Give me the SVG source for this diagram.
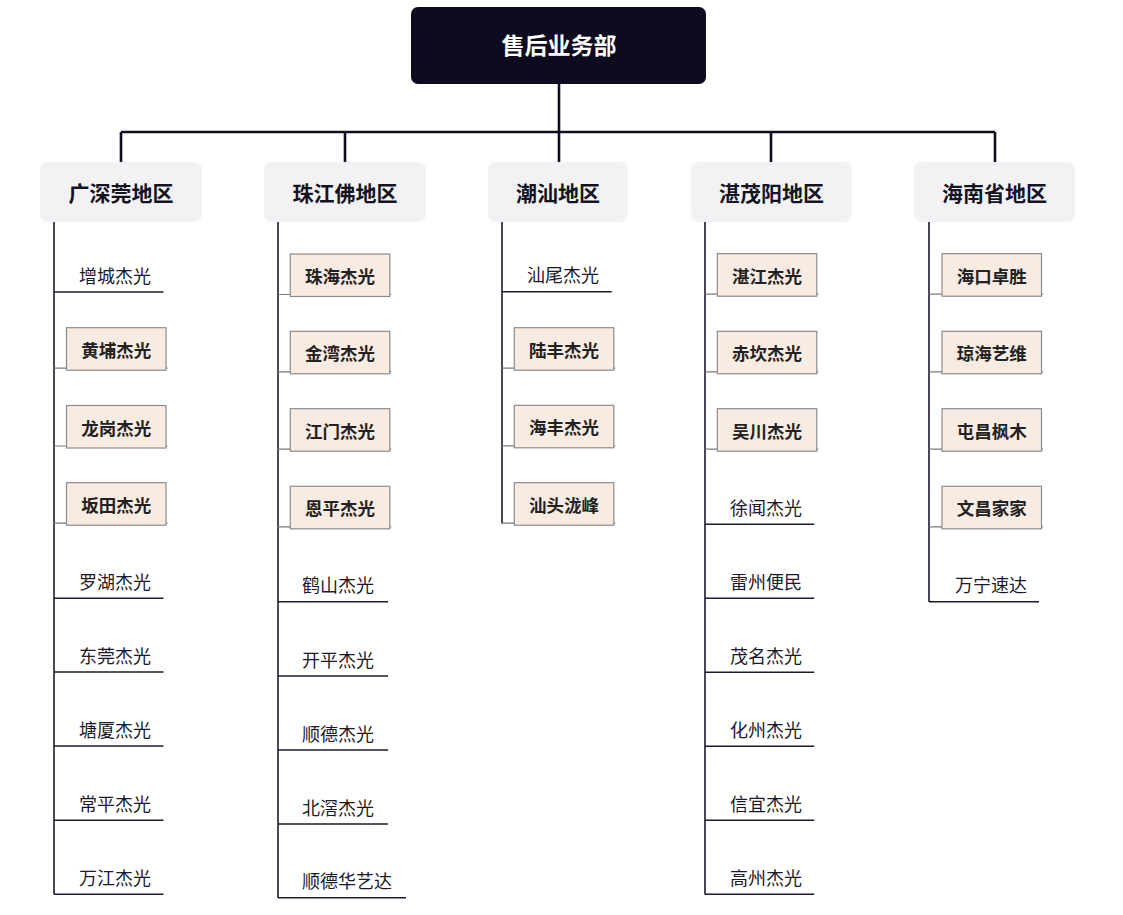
<svg xmlns="http://www.w3.org/2000/svg" width="1123" height="915" viewBox="0 0 1123 915">
<style>
text{font-family:"Noto Sans CJK SC","Noto Sans",sans-serif;dominant-baseline:central}
.root{fill:#0d0b1e}
.roottxt{fill:#ffffff;font-size:23px;font-weight:700;text-anchor:middle}
.region{fill:#f2f2f4}
.regtxt{fill:#141322;font-size:21px;font-weight:700;text-anchor:middle}
.main{stroke:#0f0d22;stroke-width:2.6;fill:none}
.trunk{stroke:#1c1b2e;stroke-width:1.6;fill:none}
.under{stroke:#1c1b2e;stroke-width:1.5;fill:none}
.bconn{stroke:#7a7a7a;stroke-width:1.2;fill:none}
.box{fill:#f8ebe1;stroke:#8c8c8c;stroke-width:1.2}
.boxtxt{fill:#222222;font-size:17.5px;font-weight:700;text-anchor:middle}
.plain{fill:#1a1a2a;font-size:18px}
</style>
<rect width="1123" height="915" fill="#ffffff"/>
<g id="connectors">
<path class="main" d="M559 84V162M121 132H995M121 132V162M345 132V162M771 132V162M995 132V162"/>
<path class="trunk" d="M54 222V894.5M278 222V898M502 222V523.5M705 222V894.5M929 222V602"/>
<path class="under" d="M54 292H163.5M54 598.3H163.5M54 672H163.5M54 746H163.5M54 820.3H163.5M54 894.3H163.5"/>
<path class="under" d="M278 601.7H388M278 676H388M278 750H388M278 824H388M278 897.7H406"/>
<path class="under" d="M502 291.7H611.7"/>
<path class="under" d="M705 524.3H814.3M705 598.3H814.3M705 672.3H814.3M705 746.3H814.3M705 820.3H814.3M705 894.3H814.3"/>
<path class="under" d="M929 601.7H1039"/>
<path class="bconn" d="M54 368.2H167.5M54 446H167.5M54 523.2H167.5"/>
<path class="bconn" d="M278 294.5H391.3M278 371.8H391.3M278 449.2H391.3M278 526.8H391.3"/>
<path class="bconn" d="M502 368.2H615.3M502 445.8H615.3M502 523.2H615.3"/>
<path class="bconn" d="M705 294.2H818.3M705 371.8H818.3M705 449.2H818.3"/>
<path class="bconn" d="M929 294.2H1043M929 371.8H1043M929 449.2H1043M929 526.8H1043"/>
</g>
<g id="root"><rect class="root" x="411" y="7" width="295" height="77" rx="7"/><text class="roottxt" x="559" y="44">售后业务部</text></g>
<g id="region-gsg"><rect class="region" x="40" y="162" width="162" height="60" rx="8"/><text class="regtxt" x="121" y="192">广深莞地区</text></g>
<g id="region-zjf"><rect class="region" x="264" y="162" width="162" height="60" rx="8"/><text class="regtxt" x="345" y="192">珠江佛地区</text></g>
<g id="region-cs"><rect class="region" x="488" y="162" width="140" height="60" rx="8"/><text class="regtxt" x="558" y="192">潮汕地区</text></g>
<g id="region-zmy"><rect class="region" x="691" y="162" width="161" height="60" rx="8"/><text class="regtxt" x="771.5" y="192">湛茂阳地区</text></g>
<g id="region-hn"><rect class="region" x="914" y="162" width="161" height="60" rx="8"/><text class="regtxt" x="994.5" y="192">海南省地区</text></g>
<g id="col1">
<g id="n-zengcheng"><text class="plain" x="79" y="274.5">增城杰光</text></g>
<g id="n-huangpu"><rect class="box" x="66.5" y="327.7" width="99.5" height="42.5"/><text class="boxtxt" x="116.2" y="349.2">黄埔杰光</text></g>
<g id="n-longgang"><rect class="box" x="66.5" y="405.5" width="99.5" height="42.5"/><text class="boxtxt" x="116.2" y="427">龙岗杰光</text></g>
<g id="n-bantian"><rect class="box" x="66.5" y="482.7" width="99.5" height="42.5"/><text class="boxtxt" x="116.2" y="504.2">坂田杰光</text></g>
<g id="n-luohu"><text class="plain" x="79" y="580.8">罗湖杰光</text></g>
<g id="n-dongguan"><text class="plain" x="79" y="654.5">东莞杰光</text></g>
<g id="n-tangxia"><text class="plain" x="79" y="728.5">塘厦杰光</text></g>
<g id="n-changping"><text class="plain" x="79" y="802.8">常平杰光</text></g>
<g id="n-wanjiang"><text class="plain" x="79" y="876.8">万江杰光</text></g>
</g>
<g id="col2">
<g id="n-zhuhai"><rect class="box" x="290.3" y="254" width="99.5" height="42.5"/><text class="boxtxt" x="340" y="275.5">珠海杰光</text></g>
<g id="n-jinwan"><rect class="box" x="290.3" y="331.3" width="99.5" height="42.5"/><text class="boxtxt" x="340" y="352.8">金湾杰光</text></g>
<g id="n-jiangmen"><rect class="box" x="290.3" y="408.7" width="99.5" height="42.5"/><text class="boxtxt" x="340" y="430.2">江门杰光</text></g>
<g id="n-enping"><rect class="box" x="290.3" y="486.3" width="99.5" height="42.5"/><text class="boxtxt" x="340" y="507.8">恩平杰光</text></g>
<g id="n-heshan"><text class="plain" x="302" y="584.2">鹤山杰光</text></g>
<g id="n-kaiping"><text class="plain" x="302" y="658.5">开平杰光</text></g>
<g id="n-shunde"><text class="plain" x="302" y="732.5">顺德杰光</text></g>
<g id="n-beijiao"><text class="plain" x="302" y="806.5">北滘杰光</text></g>
<g id="n-shundehyd"><text class="plain" x="302" y="880.2">顺德华艺达</text></g>
</g>
<g id="col3">
<g id="n-shanwei"><text class="plain" x="527" y="274.2">汕尾杰光</text></g>
<g id="n-lufeng"><rect class="box" x="514.3" y="327.7" width="99.5" height="42.5"/><text class="boxtxt" x="564" y="349.2">陆丰杰光</text></g>
<g id="n-haifeng"><rect class="box" x="514.3" y="405.3" width="99.5" height="42.5"/><text class="boxtxt" x="564" y="426.8">海丰杰光</text></g>
<g id="n-shantou"><rect class="box" x="514.3" y="482.7" width="99.5" height="42.5"/><text class="boxtxt" x="564" y="504.2">汕头泷峰</text></g>
</g>
<g id="col4">
<g id="n-zhanjiang"><rect class="box" x="717.3" y="253.7" width="99.5" height="42.5"/><text class="boxtxt" x="767" y="275.2">湛江杰光</text></g>
<g id="n-chikan"><rect class="box" x="717.3" y="331.3" width="99.5" height="42.5"/><text class="boxtxt" x="767" y="352.8">赤坎杰光</text></g>
<g id="n-wuchuan"><rect class="box" x="717.3" y="408.7" width="99.5" height="42.5"/><text class="boxtxt" x="767" y="430.2">吴川杰光</text></g>
<g id="n-xuwen"><text class="plain" x="730" y="506.8">徐闻杰光</text></g>
<g id="n-leizhou"><text class="plain" x="730" y="580.8">雷州便民</text></g>
<g id="n-maoming"><text class="plain" x="730" y="654.8">茂名杰光</text></g>
<g id="n-huazhou"><text class="plain" x="730" y="728.8">化州杰光</text></g>
<g id="n-xinyi"><text class="plain" x="730" y="802.8">信宜杰光</text></g>
<g id="n-gaozhou"><text class="plain" x="730" y="876.8">高州杰光</text></g>
</g>
<g id="col5">
<g id="n-haikou"><rect class="box" x="942" y="253.7" width="99.5" height="42.5"/><text class="boxtxt" x="991.7" y="275.2">海口卓胜</text></g>
<g id="n-qionghai"><rect class="box" x="942" y="331.3" width="99.5" height="42.5"/><text class="boxtxt" x="991.7" y="352.8">琼海艺维</text></g>
<g id="n-tunchang"><rect class="box" x="942" y="408.7" width="99.5" height="42.5"/><text class="boxtxt" x="991.7" y="430.2">屯昌枫木</text></g>
<g id="n-wenchang"><rect class="box" x="942" y="486.3" width="99.5" height="42.5"/><text class="boxtxt" x="991.7" y="507.8">文昌家家</text></g>
<g id="n-wanning"><text class="plain" x="955" y="584.2">万宁速达</text></g>
</g>
</svg>
